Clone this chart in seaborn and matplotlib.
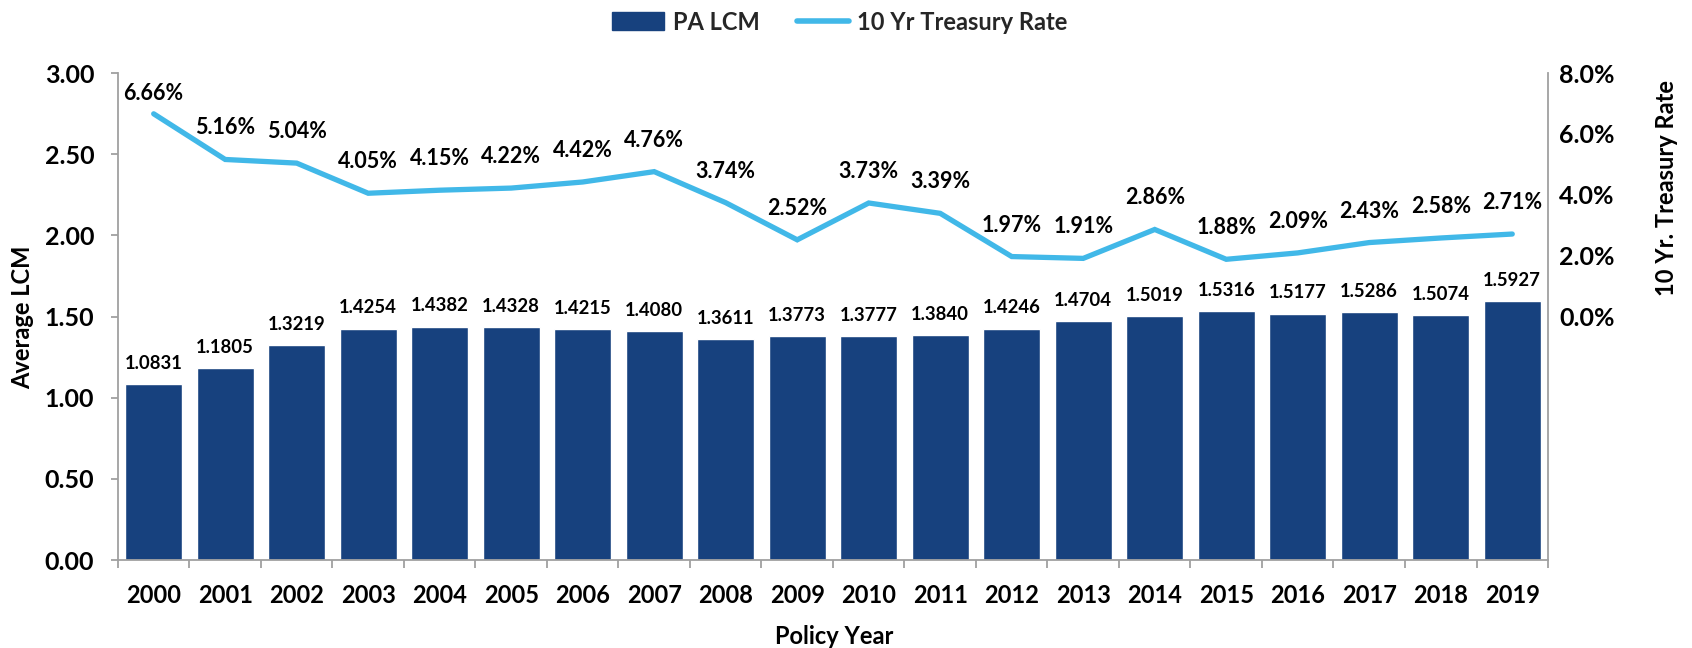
import matplotlib
matplotlib.use("Agg")
import matplotlib.pyplot as plt
import seaborn as sns
import numpy as np
import pandas as pd
from matplotlib.patches import Patch
from matplotlib.lines import Line2D
from matplotlib.ticker import FixedLocator, FuncFormatter

# ---- data ----
years = ["2000", "2001", "2002", "2003", "2004", "2005", "2006", "2007", "2008", "2009",
         "2010", "2011", "2012", "2013", "2014", "2015", "2016", "2017", "2018", "2019"]
pa_lcm = [1.0831, 1.1805, 1.3219, 1.4254, 1.4382, 1.4328, 1.4215, 1.4080, 1.3611, 1.3773,
          1.3777, 1.3840, 1.4246, 1.4704, 1.5019, 1.5316, 1.5177, 1.5286, 1.5074, 1.5927]
treasury = [6.66, 5.16, 5.04, 4.05, 4.15, 4.22, 4.42, 4.76, 3.74, 2.52,
            3.73, 3.39, 1.97, 1.91, 2.86, 1.88, 2.09, 2.43, 2.58, 2.71]
left_ticks = [0.0, 0.5, 1.0, 1.5, 2.0, 2.5, 3.0]
right_ticks = [0.0, 2.0, 4.0, 6.0, 8.0]

BAR_COLOR = "#17417E"
LINE_COLOR = "#41B8E8"
SPINE_COLOR = "#A0A0A0"

sns.set_theme(style="white")
plt.rcParams["font.family"] = ["Lato", "DejaVu Sans"]
plt.rcParams["font.weight"] = "bold"

df = pd.DataFrame({"year": years, "lcm": pa_lcm, "rate": treasury, "pos": np.arange(len(years))})

fig = plt.figure(figsize=(16.92, 6.48), dpi=100)
ax = fig.add_axes([0.0697, 0.1358, 0.8452, 0.7515])

sns.barplot(data=df, x="year", y="lcm", color=BAR_COLOR, saturation=1, width=0.8, ax=ax)
ax.set_xlim(-0.5, len(years) - 0.5)
ax.set_ylim(0, 3.0)
ax.yaxis.set_major_locator(FixedLocator(left_ticks))
ax.yaxis.set_major_formatter(FuncFormatter(lambda v, p: f"{v:.2f}"))

for i, v in enumerate(pa_lcm):
    ax.annotate(f"{v:.4f}", xy=(i, v), xytext=(0, 11), textcoords="offset points",
                ha="center", va="baseline", fontsize=13.3, fontweight="bold", color="black")

ax2 = ax.twinx()
sns.lineplot(data=df, x="pos", y="rate", color=LINE_COLOR, linewidth=3.8, ax=ax2,
             solid_joinstyle="miter")
ax2.set_ylim(-8, 8)
ax2.set_xlim(-0.5, len(years) - 0.5)
ax2.yaxis.set_major_locator(FixedLocator(right_ticks))
ax2.yaxis.set_major_formatter(FuncFormatter(lambda v, p: f"{v:.1f}%"))

for i, v in enumerate(treasury):
    off = 10 if i == 0 else 18
    ax2.annotate(f"{v:.2f}%", xy=(i, v), xytext=(0, off), textcoords="offset points",
                 ha="center", va="baseline", fontsize=15.5, fontweight="bold", color="black")

# axes styling
for a in (ax, ax2):
    for s in a.spines.values():
        s.set_visible(False)
ax.spines["left"].set_visible(True)
ax.spines["left"].set_color(SPINE_COLOR)
ax.spines["left"].set_linewidth(1.3)
ax.spines["bottom"].set_visible(True)
ax.spines["bottom"].set_color(SPINE_COLOR)
ax.spines["bottom"].set_linewidth(1.3)
ax2.spines["right"].set_visible(True)
ax2.spines["right"].set_color(SPINE_COLOR)
ax2.spines["right"].set_linewidth(1.3)

ax.tick_params(axis="y", which="major", left=True, length=5, width=1.3, color=SPINE_COLOR,
               pad=12, labelsize=18, labelcolor="black")
ax.tick_params(axis="x", which="major", bottom=False, length=0, pad=17, labelsize=17,
               labelcolor="black")
ax.set_xticks(np.arange(-0.5, len(years), 1.0), minor=True)
ax.tick_params(axis="x", which="minor", bottom=True, length=6, width=1.3, color=SPINE_COLOR)
ax2.tick_params(axis="y", right=True, length=0, pad=8, labelsize=18, labelcolor="black")
for lbl in ax.get_xticklabels() + ax.get_yticklabels() + ax2.get_yticklabels():
    lbl.set_fontweight("bold")

ax.set_xlabel("Policy Year", fontsize=17, fontweight="bold", color="black")
ax.set_ylabel("Average LCM", fontsize=17, fontweight="bold", color="black")
ax2.set_ylabel("10 Yr. Treasury Rate", fontsize=17, fontweight="bold", color="black")
ax.xaxis.set_label_coords(0.501, -0.134)
ax.yaxis.set_label_coords(-0.0664, 0.499)
ax.yaxis.label.set_verticalalignment("center")
ax2.yaxis.set_label_coords(1.083, 0.764)
ax2.yaxis.label.set_verticalalignment("center")
ax2.set_xlabel("")

ax.grid(False)
ax2.grid(False)
if ax2.get_legend() is not None:
    ax2.get_legend().remove()

handles = [Patch(facecolor=BAR_COLOR, edgecolor=BAR_COLOR),
           Line2D([0], [0], color=LINE_COLOR, linewidth=4)]
fig.legend(handles, ["PA LCM", "10 Yr Treasury Rate"], loc="center",
           bbox_to_anchor=(0.4965, 0.966), ncol=2, frameon=False,
           prop={"size": 17, "weight": "bold"}, handlelength=2.2, handleheight=0.8,
           handletextpad=0.35, columnspacing=1.6)

fig.savefig("out.png", dpi=100)
